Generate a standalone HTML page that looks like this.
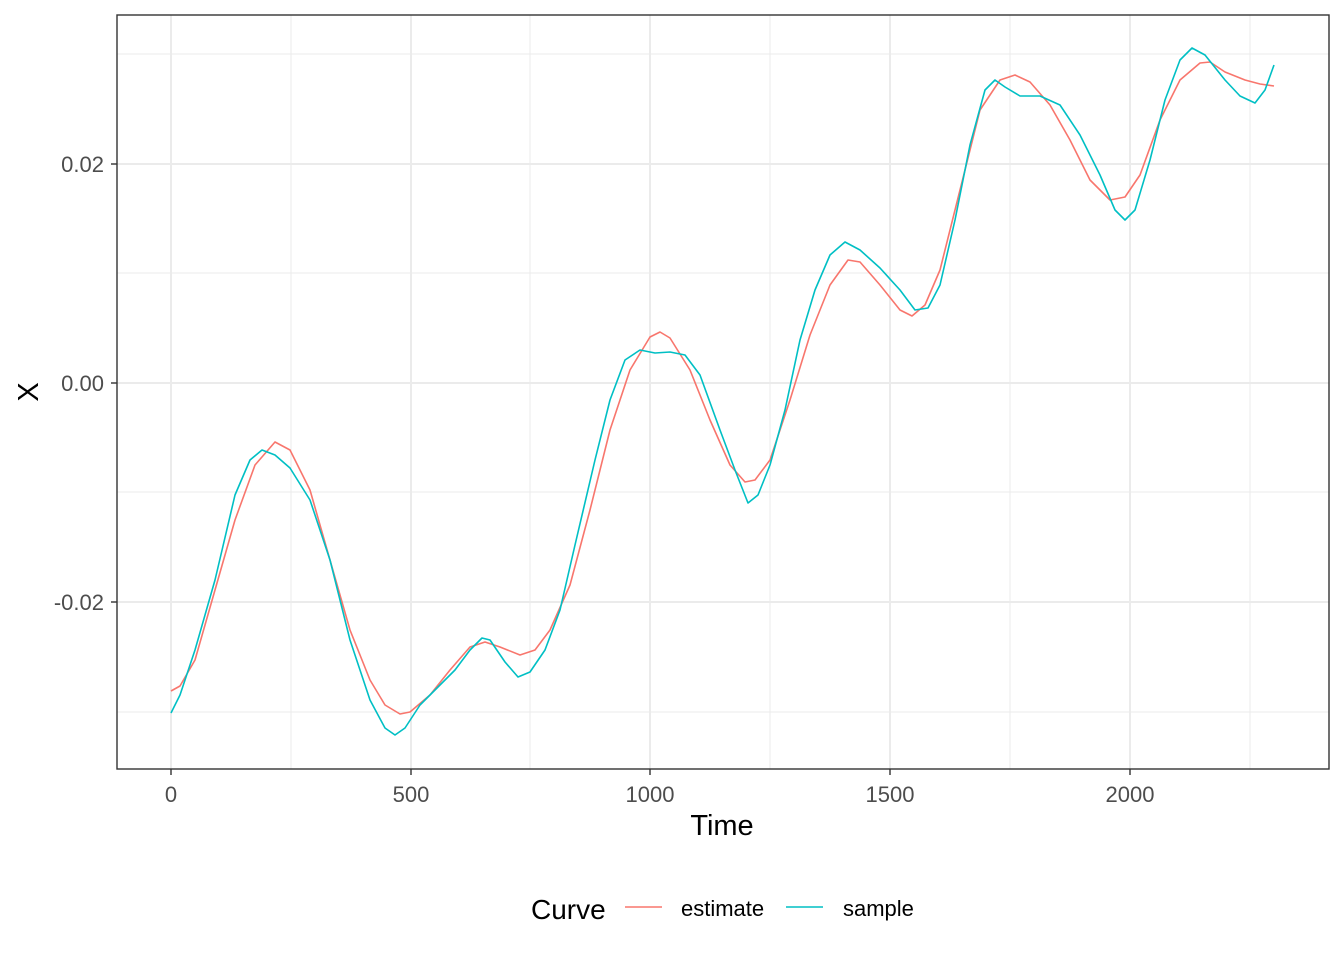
<!DOCTYPE html>
<html><head><meta charset="utf-8"><style>
body{margin:0;background:#fff;}
svg{display:block;font-family:"Liberation Sans",Arial,sans-serif;}
</style></head><body>
<svg width="1344" height="960" viewBox="0 0 1344 960">
<rect width="1344" height="960" fill="#fff"/>
<g stroke="#ebebeb" stroke-width="1">
<line x1="291" y1="15" x2="291" y2="769"/><line x1="530" y1="15" x2="530" y2="769"/><line x1="770" y1="15" x2="770" y2="769"/><line x1="1010" y1="15" x2="1010" y2="769"/><line x1="1250" y1="15" x2="1250" y2="769"/>
<line x1="117" y1="54" x2="1329" y2="54"/><line x1="117" y1="273" x2="1329" y2="273"/><line x1="117" y1="492" x2="1329" y2="492"/><line x1="117" y1="712" x2="1329" y2="712"/>
</g>
<g stroke="#ebebeb" stroke-width="2">
<line x1="171" y1="15" x2="171" y2="769"/><line x1="411" y1="15" x2="411" y2="769"/><line x1="650" y1="15" x2="650" y2="769"/><line x1="890" y1="15" x2="890" y2="769"/><line x1="1130" y1="15" x2="1130" y2="769"/>
<line x1="117" y1="164" x2="1329" y2="164"/><line x1="117" y1="383" x2="1329" y2="383"/><line x1="117" y1="602" x2="1329" y2="602"/>
</g>
<polyline fill="none" stroke="#F8766D" stroke-width="1.6" stroke-linejoin="round" points="171,691 180,686 195,660 215,590 235,520 255,465 275,442 290,450 310,490 330,560 350,630 370,680 385,705 400,714 410,712 430,695 450,670 470,647 485,642 500,647 520,655 535,650 550,630 570,585 590,510 610,430 630,370 650,337 660,332 670,338 690,370 710,420 730,465 745,482 755,480 770,460 790,400 810,335 830,285 848,260 860,262 880,285 900,310 912,316 925,305 940,270 960,190 980,110 1000,80 1015,75 1030,82 1050,105 1070,140 1090,180 1110,200 1125,197 1140,175 1160,120 1180,80 1200,63 1210,62 1225,72 1245,80 1260,84 1274,86"/>
<polyline fill="none" stroke="#00BFC4" stroke-width="1.6" stroke-linejoin="round" points="171,713 180,695 195,650 215,580 235,495 250,460 262,450 275,455 290,468 310,500 330,560 350,640 370,700 385,728 395,735 405,728 420,705 440,685 455,670 470,650 482,638 490,640 505,662 518,677 530,672 545,650 560,610 575,545 595,460 610,400 625,360 640,350 655,353 670,352 685,355 700,375 720,430 735,470 748,503 758,495 770,465 785,410 800,340 815,290 830,255 845,242 860,250 880,268 900,290 915,310 928,308 940,285 955,220 970,145 985,90 995,80 1005,87 1020,96 1040,96 1060,105 1080,135 1100,175 1115,210 1125,220 1135,210 1150,160 1165,100 1180,60 1192,48 1205,55 1225,80 1240,96 1255,103 1265,90 1274,65"/>
<rect x="117" y="15" width="1212" height="754" fill="none" stroke="#333" stroke-width="1.4"/>
<g stroke="#333" stroke-width="1.4">
<line x1="171" y1="769" x2="171" y2="775"/><line x1="411" y1="769" x2="411" y2="775"/><line x1="650" y1="769" x2="650" y2="775"/><line x1="890" y1="769" x2="890" y2="775"/><line x1="1130" y1="769" x2="1130" y2="775"/>
<line x1="111" y1="164" x2="117" y2="164"/><line x1="111" y1="383" x2="117" y2="383"/><line x1="111" y1="602" x2="117" y2="602"/>
</g>
<g fill="#4d4d4d" font-size="22" text-anchor="middle">
<text x="171" y="802">0</text><text x="411" y="802">500</text><text x="650" y="802">1000</text><text x="890" y="802">1500</text><text x="1130" y="802">2000</text>
</g>
<g fill="#4d4d4d" font-size="22" text-anchor="end">
<text x="104" y="172">0.02</text><text x="104" y="391">0.00</text><text x="104" y="610">-0.02</text>
</g>
<text x="722" y="835" font-size="29" text-anchor="middle" fill="#000">Time</text>
<text transform="translate(38,392) rotate(-90)" font-size="29" text-anchor="middle" fill="#000">X</text>
<text x="531" y="919" font-size="28" fill="#000">Curve</text>
<line x1="625" y1="907" x2="662" y2="907" stroke="#F8766D" stroke-width="1.6"/>
<text x="681" y="916" font-size="22" fill="#000">estimate</text>
<line x1="786" y1="907" x2="823" y2="907" stroke="#00BFC4" stroke-width="1.6"/>
<text x="843" y="916" font-size="22" fill="#000">sample</text>
</svg>
</body></html>
